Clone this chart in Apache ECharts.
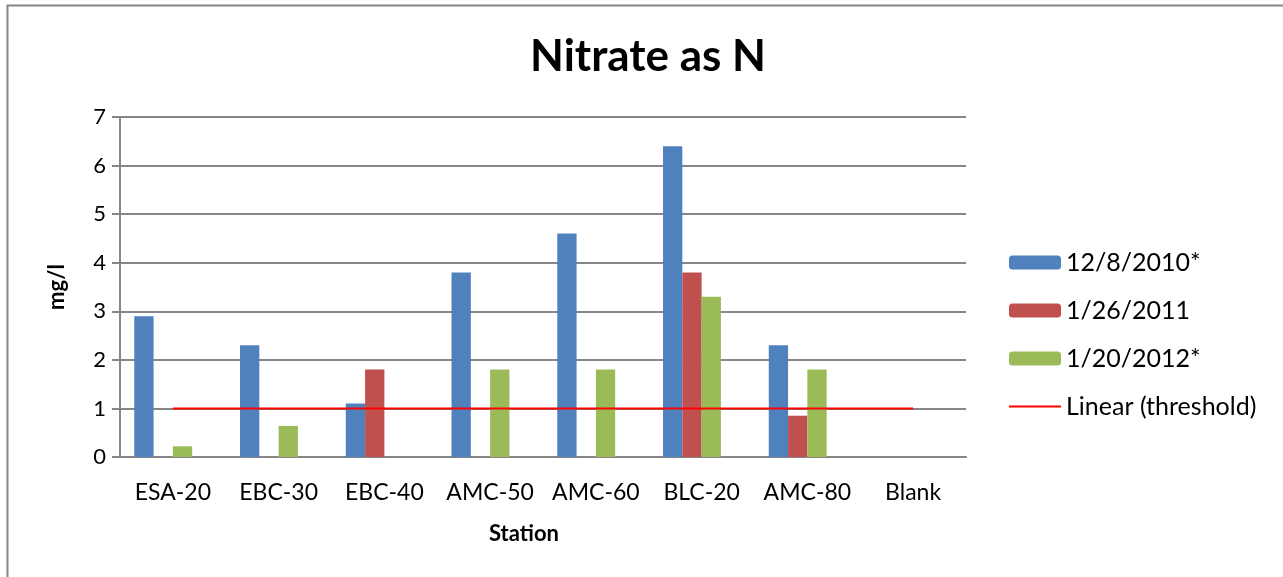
<!DOCTYPE html>
<html>
<head>
<meta charset="utf-8">
<script src="https://cdn.jsdelivr.net/npm/echarts@6/dist/echarts.min.js"></script>
<style>
  html, body { margin: 0; padding: 0; background: #ffffff; }
  #chart { width: 1283px; height: 577px; }
</style>
</head>
<body>
<div id="chart"></div>
<script>
const categories = ['ESA-20', 'EBC-30', 'EBC-40', 'AMC-50', 'AMC-60', 'BLC-20', 'AMC-80', 'Blank'];
const seriesNames = ['12/8/2010*', '1/26/2011', '1/20/2012*'];
const dec2010 = [2.9, 2.3, 1.1, 3.8, 4.6, 6.4, 2.3, null];
const jan2011 = [null, null, 1.8, null, null, 3.8, 0.85, null];
const jan2012 = [0.22, 0.64, null, 1.8, 1.8, 3.3, 1.8, null];
const threshold = [1, 1, 1, 1, 1, 1, 1, 1];
const yTicks = { min: 0, max: 7, interval: 1 };

const FONT = 'Lato';
const gray = '#868686';

const chart = echarts.init(document.getElementById('chart'), null, { renderer: 'canvas' });
chart.setOption({
  animation: false,
  backgroundColor: '#ffffff',
  title: {
    text: 'Nitrate as N',
    left: 643, top: 30, textAlign: 'center',
    textStyle: { fontFamily: FONT, fontWeight: 'bold', fontSize: 44, color: '#000' }
  },
  graphic: [{
    type: 'rect', silent: true, z: -1,
    shape: { x: 7.5, y: 5.5, width: 1300, height: 600 },
    style: { fill: 'none', stroke: gray, lineWidth: 2 }
  }],
  legend: {
    orient: 'vertical', left: 1008, top: 250, padding: 0,
    itemWidth: 52, itemHeight: 14, itemGap: 23,
    textStyle: { fontFamily: FONT, fontSize: 25, color: '#000' },
    data: [
      seriesNames[0], seriesNames[1], seriesNames[2],
      { name: 'Linear (threshold)', itemStyle: { color: 'rgba(0,0,0,0)', borderWidth: 0 } }
    ]
  },
  grid: { left: 120, right: 317, top: 117, bottom: 120 },
  xAxis: {
    type: 'category', data: categories,
    name: 'Station', nameLocation: 'middle', nameGap: 66,
    nameTextStyle: { fontFamily: FONT, fontWeight: 'bold', fontSize: 22, color: '#000', padding: [0, 38, 0, 0] },
    axisLine: { lineStyle: { color: gray, width: 2 } },
    axisTick: { show: false },
    axisLabel: { fontFamily: FONT, fontSize: 23, color: '#000', margin: 24, interval: 0 }
  },
  yAxis: {
    type: 'value', min: yTicks.min, max: yTicks.max, interval: yTicks.interval,
    name: 'mg/l', nameLocation: 'middle', nameGap: 52,
    nameTextStyle: { fontFamily: FONT, fontWeight: 'bold', fontSize: 22, color: '#000' },
    axisLine: { show: true, lineStyle: { color: gray, width: 2 } },
    axisTick: { show: true, length: 8, lineStyle: { color: gray, width: 2 } },
    axisLabel: { fontFamily: FONT, fontSize: 22, color: '#000', margin: 14 },
    splitLine: { lineStyle: { color: gray, width: 2 } }
  },
  series: [
    { name: seriesNames[0], type: 'bar', data: dec2010, barGap: '0%', barCategoryGap: '27%',
      itemStyle: { color: '#4F81BD' } },
    { name: seriesNames[1], type: 'bar', data: jan2011, itemStyle: { color: '#C0504D' } },
    { name: seriesNames[2], type: 'bar', data: jan2012, itemStyle: { color: '#9BBB59' } },
    { name: 'threshold', type: 'bar', data: threshold, itemStyle: { color: 'rgba(0,0,0,0)' }, silent: true },
    { name: 'Linear (threshold)', type: 'line', data: threshold, symbol: 'none', z: 5,
      lineStyle: { color: '#FF0000', width: 2 }, itemStyle: { color: '#FF0000' } }
  ]
});
</script>
</body>
</html>
